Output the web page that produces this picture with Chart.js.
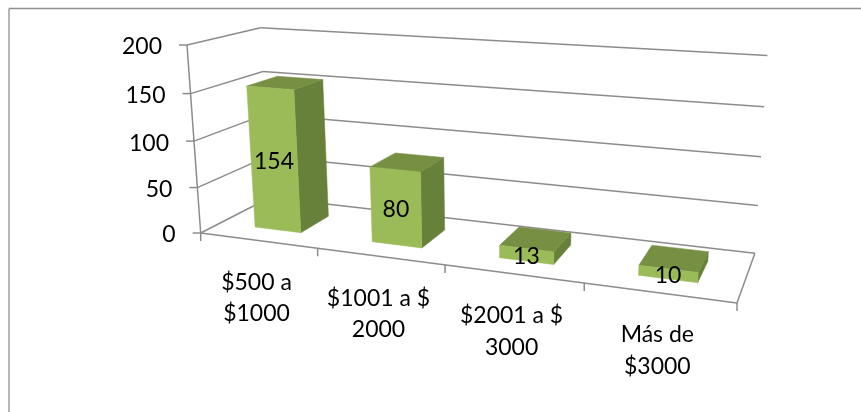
<!DOCTYPE html>
<html>
<head>
<meta charset="utf-8">
<style>
html,body{margin:0;padding:0;background:#fff;}
canvas{display:block;}
</style>
<script src="https://cdn.jsdelivr.net/npm/chart.js@4/dist/chart.umd.min.js"></script>
</head>
<body>
<canvas id="chart" width="861" height="412"></canvas>
<script>
var categories = [['$500 a','$1000'],['$1001 a $','2000'],['$2001 a $','3000'],['Más de','$3000']];
var values = [154,80,13,10];
var yTicks = {min:0,max:200,stepSize:50};

var FONT = '23px Lato';
var GRID = '#8c8c8c';
var FRONT = '#9BBB59', SIDE = '#67803A', TOP = '#768F43';

// the box of the 3d chart on screen: origin, then the far end of each of its edges
var A = [200.7,233], B = [737,303], C = [187,45], D = [270,197.5];
// perspective weight along each edge
var CT = -0.163, CH = -0.044, CD = 0.112;
// where the bars stand in the depth of the floor, and their small nudge along it
var D0 = 0.27, D1 = 0.71, NUDGE = 0.002;

function project(t,h,d){
	var w = 1 + CT*t + CH*h + CD*d;
	var out = [0,1].map(function(i){
		return A[i] + t*((1+CT)*B[i]-A[i]) + h*((1+CH)*C[i]-A[i]) + d*((1+CD)*D[i]-A[i]);
	});
	return [out[0]/w,out[1]/w];
}

function poly(ctx,pts,fill){
	ctx.beginPath();
	pts.forEach(function(p,i){ i ? ctx.lineTo(p[0],p[1]) : ctx.moveTo(p[0],p[1]); });
	ctx.closePath();
	ctx.fillStyle = fill;
	ctx.fill();
	ctx.strokeStyle = fill;
	ctx.lineWidth = 0.5;
	ctx.stroke();
}

function line(ctx,a,b){
	ctx.beginPath();
	ctx.moveTo(a[0],a[1]);
	ctx.lineTo(b[0],b[1]);
	ctx.stroke();
}

var box3d = {
	id:'box3d',
	beforeDatasetDraw:function(chart){
		var ctx = chart.ctx;
		var x = chart.scales.x, y = chart.scales.y;
		var toT = function(px){ return (px-x.left)/x.width; };
		var toH = function(py){ return (y.bottom-py)/y.height; };
		var n = x.getLabels().length;

		ctx.save();
		// frame, only top and left in the picture
		ctx.strokeStyle = '#909090';
		ctx.lineWidth = 1.3;
		line(ctx,[9,412],[9,8.5]);
		line(ctx,[9,8.5],[861,8.5]);

		// walls
		ctx.strokeStyle = GRID;
		ctx.lineWidth = 1.5;
		y.ticks.forEach(function(tick){
			var h = toH(y.getPixelForValue(tick.value));
			var p = project(0,h,0);
			line(ctx,p,project(0,h,1));
			line(ctx,project(0,h,1),project(1,h,1));
			line(ctx,[p[0]-8,p[1]],p);
		});
		line(ctx,project(0,0,0),project(0,1,0));
		// floor
		line(ctx,project(0,0,0),project(1,0,0));
		line(ctx,project(1,0,0),project(1,0,1));
		for(var i=0;i<=n;i++){
			var f = project(i/n,0,0);
			line(ctx,f,[f[0],f[1]+8]);
		}

		// bars
		var meta = chart.getDatasetMeta(0);
		meta.data.forEach(function(bar){
			var t0 = toT(bar.x-bar.width/2)+NUDGE, t1 = toT(bar.x+bar.width/2)+NUDGE;
			var h = toH(bar.y);
			poly(ctx,[project(t1,0,D0),project(t1,0,D1),project(t1,h,D1),project(t1,h,D0)],SIDE);
			poly(ctx,[project(t0,h,D0),project(t1,h,D0),project(t1,h,D1),project(t0,h,D1)],TOP);
			poly(ctx,[project(t0,0,D0),project(t1,0,D0),project(t1,h,D0),project(t0,h,D0)],FRONT);
		});

		// text
		ctx.fillStyle = '#000';
		ctx.font = FONT;
		ctx.textBaseline = 'middle';
		ctx.textAlign = 'right';
		y.ticks.forEach(function(tick){
			var p = project(0,toH(y.getPixelForValue(tick.value)),0);
			ctx.fillText(tick.value,p[0]-25,p[1]+2);
		});
		ctx.textAlign = 'center';
		meta.data.forEach(function(bar,i){
			var p = project(toT(bar.x)+NUDGE,toH(bar.y)/2,D0);
			ctx.fillText(values[i],p[0],p[1]+2);
		});
		x.getLabels().forEach(function(label,i){
			var p = project((i+0.5)/n,0,0);
			label.forEach(function(row,j){
				ctx.fillText(row,p[0]-1.5,p[1]+42+j*31.5);
			});
		});
		ctx.restore();
		return false;
	}
};

new Chart(document.getElementById('chart'),{
	type:'bar',
	data:{
		labels:categories,
		datasets:[{data:values,backgroundColor:FRONT,barPercentage:0.4,categoryPercentage:1}]
	},
	options:{
		responsive:false,
		animation:false,
		layout:{padding:{left:100,right:100,top:40,bottom:100}},
		plugins:{legend:{display:false},tooltip:{enabled:false}},
		scales:{
			x:{display:false},
			y:{display:false,min:yTicks.min,max:yTicks.max,ticks:{stepSize:yTicks.stepSize}}
		}
	},
	plugins:[box3d]
});
</script>
</body>
</html>
